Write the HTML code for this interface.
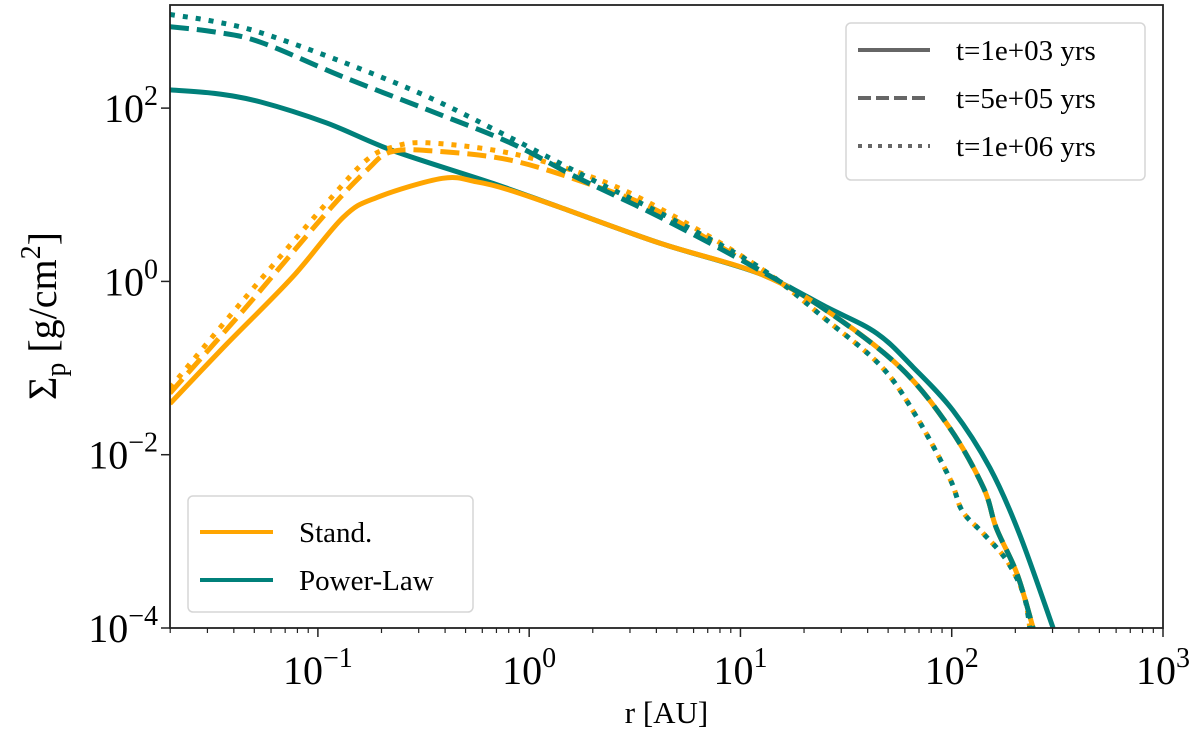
<!DOCTYPE html>
<html><head><meta charset="utf-8"><style>
html,body{margin:0;padding:0;background:#fff;}
svg{display:block;font-family:"Liberation Serif",serif;}
</style></head><body>
<svg id="chart" width="1200" height="734" viewBox="0 0 1200 734"></svg>
<script>
// Data (log10 r [AU], log10 Sigma [g/cm^2])
const tealSolidLogR = [-1.70,-1.49,-1.27,-0.96,-0.645,-0.17,0.146,0.62,1.09,1.41,1.646,1.817,2.006,2.18,2.32,2.48];
const tealSolidLogS = [2.21,2.17,2.07,1.83,1.51,1.13,0.855,0.44,0.09,-0.30,-0.60,-0.99,-1.49,-2.15,-2.91,-4.0];
const tealDashLogR = [-1.70,-1.49,-1.27,-0.88,-0.48,-0.09,0.226,0.62,1.09,1.41,1.755,1.99,2.15,2.21,2.31,2.385];
const tealDashLogS = [2.94,2.88,2.76,2.36,1.98,1.60,1.20,0.74,0.13,-0.34,-0.99,-1.69,-2.38,-2.84,-3.38,-4.0];
const tealDotLogR = [-1.70,-1.49,-1.27,-0.88,-0.48,-0.09,0.30,0.62,1.09,1.41,1.67,1.835,1.99,2.05,2.15,2.26,2.34,2.37];
const tealDotLogS = [3.08,3.00,2.87,2.53,2.13,1.66,1.17,0.79,0.16,-0.45,-0.99,-1.57,-2.27,-2.65,-2.91,-3.22,-3.61,-4.0];
const orSolidLogR = [-1.70,-1.43,-1.12,-0.88,-0.72,-0.41,-0.25,-0.10,0.146,0.62,1.09,1.41,1.755,1.99,2.15,2.21,2.31,2.385];
const orSolidLogS = [-1.41,-0.72,0.05,0.74,0.97,1.19,1.15,1.06,0.855,0.44,0.09,-0.34,-0.99,-1.69,-2.38,-2.84,-3.38,-4.0];
const orDashLogR = [-1.70,-1.355,-0.96,-0.77,-0.66,-0.48,-0.09,0.30,0.62,1.09,1.41,1.755,1.99,2.15,2.21,2.31,2.385];
const orDashLogS = [-1.29,-0.34,0.79,1.28,1.49,1.51,1.40,1.11,0.80,0.13,-0.34,-0.99,-1.69,-2.38,-2.84,-3.38,-4.0];
const orDotLogR = [-1.70,-1.355,-0.96,-0.77,-0.645,-0.48,-0.09,0.30,0.62,1.09,1.41,1.67,1.835,1.99,2.05,2.15,2.26,2.34,2.37];
const orDotLogS = [-1.23,-0.22,0.90,1.40,1.55,1.60,1.48,1.20,0.84,0.16,-0.45,-0.99,-1.57,-2.27,-2.65,-2.91,-3.22,-3.61,-4.0];
const xTickExps = [-1,0,1,2,3];
const yTickExps = [-4,-2,0,2];

const NS='http://www.w3.org/2000/svg';
const svg=document.getElementById('chart');
const L=170,R=1163,T=5,B=628;
const xMin=-1.70,xMax=3.0,yMin=-4.0,yMax=3.19;
function sx(v){return L+(v-xMin)/(xMax-xMin)*(R-L);}
function sy(v){return B-(v-yMin)/(yMax-yMin)*(B-T);}
function mk(tag,attrs,parent){const e=document.createElementNS(NS,tag);for(const k in attrs)e.setAttribute(k,attrs[k]);(parent||svg).appendChild(e);return e;}

const defs=mk('defs',{});
const cp=mk('clipPath',{id:'clip'},defs);
mk('rect',{x:L,y:T,width:R-L,height:B-T},cp);
const plot=mk('g',{'clip-path':'url(#clip)'});



function smoothPath(xs,ys){
  const P=xs.map((v,i)=>[sx(v),sy(ys[i])]);
  let d='M'+P[0][0].toFixed(1)+','+P[0][1].toFixed(1);
  for(let i=0;i<P.length-1;i++){
    const p0=P[Math.max(0,i-1)],p1=P[i],p2=P[i+1],p3=P[Math.min(P.length-1,i+2)];
    const c1=[p1[0]+(p2[0]-p0[0])/6,p1[1]+(p2[1]-p0[1])/6];
    const c2=[p2[0]-(p3[0]-p1[0])/6,p2[1]-(p3[1]-p1[1])/6];
    d+='C'+c1.map(n=>n.toFixed(1)).join(',')+' '+c2.map(n=>n.toFixed(1)).join(',')+' '+p2.map(n=>n.toFixed(1)).join(',');
  }
  return d;
}

const TEAL='#00807a',ORANGE='#ffa500';
function line(xs,ys,color,dash,name){
  const p=mk('path',{d:smoothPath(xs,ys),fill:'none',stroke:color,'stroke-width':5,'stroke-linejoin':'round'},plot);
  if(dash)p.setAttribute('stroke-dasharray',dash);
  
  
}
line(tealSolidLogR,tealSolidLogS,TEAL,null,'power-law-t1e3-line');
line(orSolidLogR,orSolidLogS,ORANGE,null,'stand-t1e3-line');
line(orDashLogR,orDashLogS,ORANGE,'19 8','stand-t5e5-line');
line(orDotLogR,orDotLogS,ORANGE,'5 8','stand-t1e6-line');
line(tealDashLogR,tealDashLogS,TEAL,'19 8','power-law-t5e5-line');
line(tealDotLogR,tealDotLogS,TEAL,'5 8','power-law-t1e6-line');

const frame=mk('rect',{x:L,y:T,width:R-L,height:B-T,fill:'none',stroke:'#222','stroke-width':1.8});



for(let e=-2;e<=2;e++){
  for(let m=2;m<=9;m++){const v=e+Math.log10(m);if(v<xMin||v>xMax)continue;
    mk('line',{x1:sx(v),x2:sx(v),y1:B,y2:B+5,stroke:'#222','stroke-width':1.2});}
}
xTickExps.forEach(e=>{
  const x=sx(e);
  mk('line',{x1:x,x2:x,y1:B,y2:B+9,stroke:'#222','stroke-width':1.5});
  const t=mk('text',{x:x,y:684,'font-size':40,'text-anchor':'middle'});
  
  
  t.innerHTML='10<tspan dy="-17" font-size="28">'+(e<0?'\u2212'+(-e):e)+'</tspan>';
});
yTickExps.forEach(e=>{
  const y=sy(e);
  mk('line',{x1:L-9,x2:L,y1:y,y2:y,stroke:'#222','stroke-width':1.5});
  const t=mk('text',{x:L-12,y:y+14,'font-size':40,'text-anchor':'end'});
  
  
  t.innerHTML='10<tspan dy="-17" font-size="28">'+(e<0?'\u2212'+(-e):e)+'</tspan>';
});

const xt=mk('text',{x:(L+R)/2,y:723,'font-size':31,'text-anchor':'middle'});


xt.textContent='r [AU]';
const yt=mk('text',{x:0,y:0,'font-size':40,'text-anchor':'middle',transform:'translate(56,316) rotate(-90)'});


yt.innerHTML='\u03a3<tspan font-size="28" dy="9">p</tspan><tspan dy="-9"> [g/cm</tspan><tspan font-size="28" dy="-16">2</tspan><tspan dy="16">]</tspan>';

const lg1=mk('g',{});


mk('rect',{x:846,y:23,width:299,height:157,rx:5,fill:'#fff',stroke:'#d6d6d6','stroke-width':1.5},lg1);
const times=['t=1e+03 yrs','t=5e+05 yrs','t=1e+06 yrs'];
const dashes=[null,'13 5','4 6'];
times.forEach((s,i)=>{
  const y=50+i*48;
  const ln=mk('line',{x1:858,x2:930,y1:y,y2:y,stroke:'#666','stroke-width':4},lg1);
  if(dashes[i])ln.setAttribute('stroke-dasharray',dashes[i]);
  
  
  const t=mk('text',{x:956,y:y+10,'font-size':29},lg1);
  
  
  t.textContent=s;
});

const lg2=mk('g',{});


mk('rect',{x:188,y:496,width:285,height:116,rx:5,fill:'#fff',stroke:'#d6d6d6','stroke-width':1.5},lg2);
[['Stand.',ORANGE],['Power-Law',TEAL]].forEach((m,i)=>{
  const y=532+i*48;
  const ln=mk('line',{x1:200,x2:273,y1:y,y2:y,stroke:m[1],'stroke-width':4},lg2);
  
  
  const t=mk('text',{x:299,y:y+10,'font-size':29},lg2);
  
  
  t.textContent=m[0];
});
</script>
</body></html>
